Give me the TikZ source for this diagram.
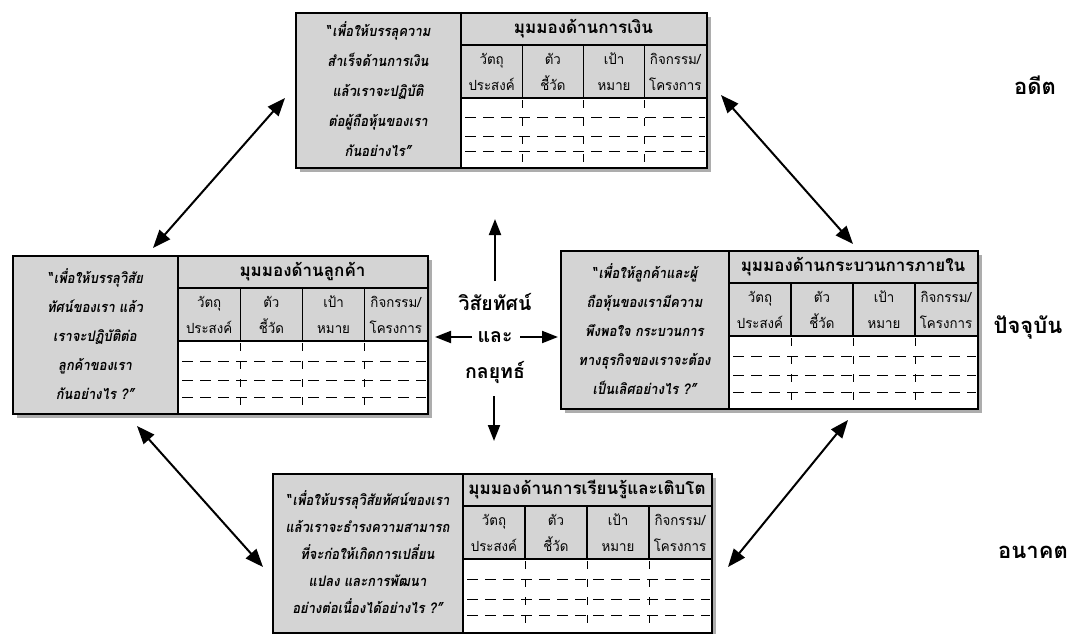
\documentclass[tikz,border=0pt]{standalone}
\usepackage{fontspec}
\usetikzlibrary{arrows.meta}
\newfontfamily\thai[Script=Thai]{Loma}
\newfontfamily\thaisl[Script=Thai,FakeSlant=0.18,FakeStretch=0.9]{Loma}
\newfontfamily\thaicol[Script=Thai,FakeStretch=0.95]{Loma}
\definecolor{boxgray}{gray}{0.83}
\definecolor{shadowgray}{gray}{0.68}
\newcommand\oq{“\kern1.5pt}
\tikzset{
  perspframe/.style={draw=black,line width=2.2pt,inner sep=0pt,anchor=north west},
  innerline/.style={draw=black,line width=1.3pt},
  dashrow/.style={draw=black,line width=0.9pt,dash pattern=on 11pt off 7pt,dash phase=-3pt},
  dashcol/.style={draw=black,line width=0.9pt,dash pattern=on 8pt off 10pt,dash phase=-2pt},
  quotetext/.style={align=center,inner sep=0pt},
  titletext/.style={font=\thai\bfseries\fontsize{17}{20}\selectfont,inner sep=0pt},
  colhead/.style={font=\thaicol\fontsize{14}{26}\selectfont,align=center,inner sep=0pt},
  centertext/.style={font=\thai\bfseries\fontsize{19.5}{22}\selectfont,inner sep=0pt},
  timetext/.style={font=\thai\bfseries\fontsize{22}{24}\selectfont,inner sep=0pt},
  bigarrow/.style={line width=2pt,{Triangle[length=18pt,width=14pt]}-{Triangle[length=18pt,width=14pt]}},
  onearrow/.style={line width=2pt,-{Triangle[length=16pt,width=12pt]}},
}
% #1 name, #2 left, #3 top, #4 divider, #5 right, #6 bottom, #7 title, #8 quote, #9 quote baselineskip
\newcommand\perspbox[9]{%
  \pgfmathsetmacro\ppHa{#3+33}%
  \pgfmathsetmacro\ppHb{#3+86}%
  \pgfmathsetmacro\ppW{(#5-#4)/4}%
  \fill[shadowgray] ({#2+5},{#3+5}) rectangle ({#5+5},{#6+5});
  \fill[boxgray] (#2,#3) rectangle (#5,\ppHb);
  \fill[boxgray] (#2,\ppHb) rectangle (#4,#6);
  \fill[white] (#4,\ppHb) rectangle (#5,#6);
  \foreach \f in {0.28,0.55,0.78}{
    \draw[dashrow] ({#4+1},{\ppHb+\f*(#6-\ppHb)}) -- ({#5-1},{\ppHb+\f*(#6-\ppHb)});
  }
  \foreach \k in {1,2,3}{
    \draw[innerline] ({#4+\k*\ppW},\ppHa) -- ({#4+\k*\ppW},\ppHb);
    \draw[dashcol] ({#4+\k*\ppW},\ppHb) -- ({#4+\k*\ppW},#6);
  }
  \draw[innerline] (#4,\ppHa) -- (#5,\ppHa);
  \draw[innerline] (#4,\ppHb) -- (#5,\ppHb);
  \draw[innerline] (#4,#3) -- (#4,#6);
  \node[perspframe,minimum width={#5-#2},minimum height={#6-#3}] (#1) at (#2,#3) {};
  \node[titletext] (#1t) at ({(#4+#5)/2},{(#3+\ppHa)/2}) {#7};
  \node[quotetext,font=\thaisl\bfseries\fontsize{14.5}{#9}\selectfont] (#1q) at ({(#2+#4)/2},{(#3+#6)/2}) {#8};
  \node[colhead] (#1c1) at ({#4+0.5*\ppW},{(\ppHa+\ppHb)/2}) {วัตถุ\\ประสงค์};
  \node[colhead] (#1c2) at ({#4+1.5*\ppW},{(\ppHa+\ppHb)/2}) {ตัว\\ชี้วัด};
  \node[colhead] (#1c3) at ({#4+2.5*\ppW},{(\ppHa+\ppHb)/2}) {เป้า\\หมาย};
  \node[colhead] (#1c4) at ({#4+3.5*\ppW},{(\ppHa+\ppHb)/2}) {กิจกรรม/\\โครงการ};
}
\begin{document}
\begin{tikzpicture}[x=1pt,y=-1pt]
\useasboundingbox (0,0) rectangle (1069,634);
\fill[white] (0,0) rectangle (1069,634);

\perspbox{fin}{295}{12}{461}{706}{167}{มุมมองด้านการเงิน}{\oq เพื่อให้บรรลุความ\\สำเร็จด้านการเงิน\\แล้วเราจะปฏิบัติ\\ต่อผู้ถือหุ้นของเรา\\กันอย่างไร”}{30}
\perspbox{cus}{12}{255}{178}{427}{413}{มุมมองด้านลูกค้า}{\oq เพื่อให้บรรลุวิสัย\\ทัศน์ของเรา แล้ว\\เราจะปฏิบัติต่อ\\ลูกค้าของเรา\\กันอย่างไร ?”}{29}
\perspbox{int}{560}{250}{729}{977}{408}{มุมมองด้านกระบวนการภายใน}{\oq เพื่อให้ลูกค้าและผู้\\ถือหุ้นของเรามีความ\\พึงพอใจ กระบวนการ\\ทางธุรกิจของเราจะต้อง\\เป็นเลิศอย่างไร ?”}{29}
\perspbox{lrn}{272}{473}{463}{711}{632}{มุมมองด้านการเรียนรู้และเติบโต}{\oq เพื่อให้บรรลุวิสัยทัศน์ของเรา\\แล้วเราจะธำรงความสามารถ\\ที่จะก่อให้เกิดการเปลี่ยน\\แปลง และการพัฒนา\\อย่างต่อเนื่องได้อย่างไร ?”}{27}

% centre
\node[centertext] (vis) at (495,302) {วิสัยทัศน์};
\node[centertext] (and) at (495,337) {และ};
\node[centertext] (str) at (495,372) {กลยุทธ์};
\coordinate (upend) at (495,219);
\coordinate (downend) at (494,441);
\coordinate (leftend) at (435,337);
\coordinate (rightend) at (558,337);
\draw[onearrow] (495,281) -- (upend);
\draw[onearrow] (494,396) -- (downend);
\draw[onearrow] (472,337) -- (leftend);
\draw[onearrow] (520,337) -- (rightend);

% diagonal arrows
\coordinate (a1) at (285,98);  \coordinate (a2) at (153,248);
\coordinate (b1) at (721,95);  \coordinate (b2) at (853,244);
\coordinate (c1) at (137,426); \coordinate (c2) at (263,567);
\coordinate (d1) at (848,420); \coordinate (d2) at (728,567);
\draw[bigarrow] (a2) -- (a1);
\draw[bigarrow] (b1) -- (b2);
\draw[bigarrow] (c1) -- (c2);
\draw[bigarrow] (d1) -- (d2);

% time labels
\node[timetext] (past) at (1035,85) {อดีต};
\node[timetext] (now) at (1028,327) {ปัจจุบัน};
\node[timetext] (future) at (1033,552) {อนาคต};
\end{tikzpicture}
\end{document}
